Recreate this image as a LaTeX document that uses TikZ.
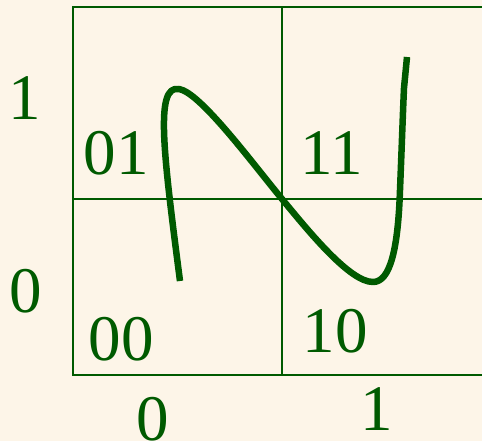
\documentclass[tikz,border=0pt]{standalone}
\usepackage{fontspec}
\setmainfont{Liberation Serif}
\usetikzlibrary{positioning}
\definecolor{bgclr}{HTML}{FDF5E8}
\definecolor{kclr}{HTML}{005A00}

\begin{document}
\begin{tikzpicture}[
  x=1pt, y=-1pt,
  gridline/.style={draw=kclr, line width=2.6pt},
  curve/.style={draw=kclr, line width=6.5pt, line join=round},
  lbl/.style={font=\fontsize{65}{70}\selectfont, text=kclr, inner sep=0pt, anchor=base},
]

% Background and frame
\fill[bgclr] (0,0) rectangle (482,441);
\useasboundingbox (0,0) rectangle (482,441);

% Grid corners
\coordinate (tl) at (73,7);
\coordinate (tm) at (282,7);
\coordinate (tr) at (482,7);
\coordinate (ml) at (73,199);
\coordinate (mm) at (282,199);
\coordinate (mr) at (482,199);
\coordinate (bl) at (73,375);
\coordinate (bm) at (282,375);
\coordinate (br) at (482,375);

% Grid lines
\draw[gridline] (tr) -- (tl) -- (bl) -- (br);
\draw[gridline] (tm) -- (bm);
\draw[gridline] (ml) -- (mr);

% Cell labels
\node[lbl] (c01) at (116,175) {01};
\node[lbl] (c11) at (332,175) {11};
\node[lbl] (c00) at (121,360) {00};
\node[lbl] (c10) at (335,352) {10};

% Axis labels
\node[lbl] (y1) at (25,120) {1};
\node[lbl] (y0) at (26,312) {0};
\node[lbl] (x0) at (153,440) {0};
\node[lbl] (x1) at (377,430) {1};

% The curve
\draw[curve] (180,281) .. controls (163,150) and (155,85) .. (179,89)
  .. controls (200,92.5) and (250,160) .. (mm)
  .. controls (310,233) and (350,282) .. (373,282)
  .. controls (390,282) and (398,250) .. (400,190)
  .. controls (402,140) and (403,110) .. (404,88)
  -- (407,57);

\end{tikzpicture}
\end{document}
